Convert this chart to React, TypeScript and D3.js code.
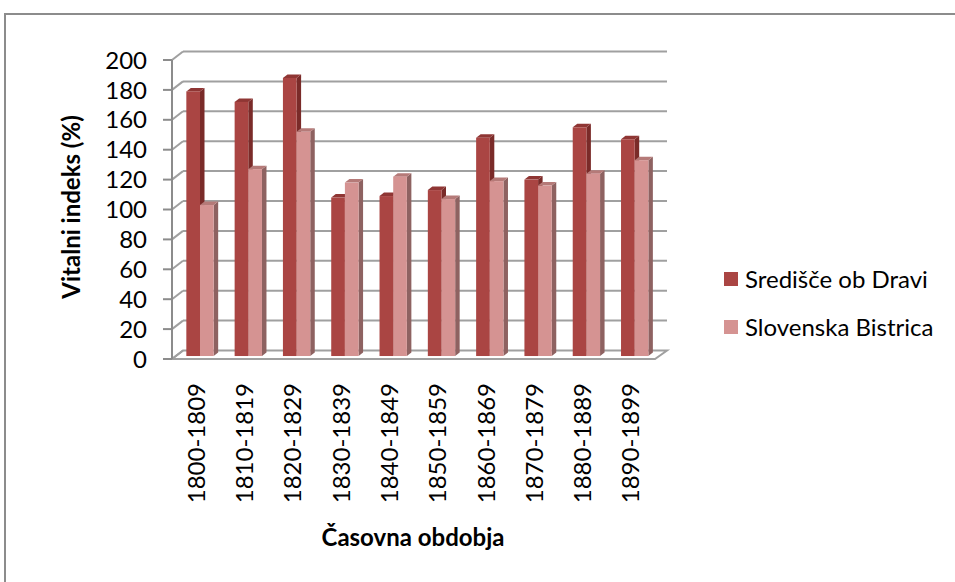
import { useEffect, useRef } from 'react'
import * as d3 from 'd3'

const categories = ['1800-1809', '1810-1819', '1820-1829', '1830-1839', '1840-1849', '1850-1859', '1860-1869', '1870-1879', '1880-1889', '1890-1899']
const seriesNames = ['Središče ob Dravi', 'Slovenska Bistrica']
const sredisce = [177, 170, 186, 106, 107, 111, 146, 118, 153, 145]
const bistrica = [101, 125, 150, 116, 120, 105, 117, 114, 122, 131]
const yTicks = [0, 20, 40, 60, 80, 100, 120, 140, 160, 180, 200]

const colors = [
  { front: '#AA4543', side: '#7A2B29', top: '#8F3634' },
  { front: '#D59392', side: '#8E6261', top: '#B57A78' },
]

export default function App() {
  const ref = useRef<SVGSVGElement>(null)

  useEffect(() => {
    if (!ref.current) return
    const svg = d3.select(ref.current)
    svg.selectAll('*').remove()

    const font = 'Lato, "Open Sans", sans-serif'
    const x0 = 172, x1 = 655
    const depthX = 11, depthY = -8.5

    // front scale (axis) and back wall scale
    const yFront = d3.scaleLinear().domain([0, 200]).range([359, 60])
    const yBack = (v: number) => yFront(v) + depthY

    // outer frame
    svg.append('rect')
      .attr('x', 5).attr('y', 14)
      .attr('width', 980).attr('height', 600)
      .attr('fill', 'white')
      .attr('stroke', '#8c8c8c').attr('stroke-width', 2)

    const grid = svg.append('g')

    // floor
    grid.append('path')
      .attr('d', `M${x0},${yFront(0)} L${x1},${yFront(0)} L${x1 + depthX + 1},${yBack(0)} L${x0 + depthX},${yBack(0)} Z`)
      .attr('fill', 'white')
      .attr('stroke', '#a0a0a0').attr('stroke-width', 2)

    // gridlines on back wall + side diagonals
    yTicks.forEach(t => {
      if (t > 0) {
        grid.append('line')
          .attr('x1', x0 + depthX).attr('x2', x1 + depthX + 1)
          .attr('y1', yBack(t)).attr('y2', yBack(t))
          .attr('stroke', '#a0a0a0').attr('stroke-width', 2)
      }
      grid.append('line')
        .attr('x1', x0).attr('y1', yFront(t))
        .attr('x2', x0 + depthX).attr('y2', yBack(t))
        .attr('stroke', '#a0a0a0').attr('stroke-width', 2)
      // tick mark
      grid.append('line')
        .attr('x1', x0 - 9).attr('x2', x0)
        .attr('y1', yFront(t)).attr('y2', yFront(t))
        .attr('stroke', '#8c8c8c').attr('stroke-width', 2)
      svg.append('text')
        .attr('x', 147).attr('y', yFront(t))
        .attr('dy', '0.36em')
        .attr('text-anchor', 'end')
        .attr('font-family', font).attr('font-size', 24)
        .attr('fill', '#000')
        .text(t)
    })

    // front axis line
    grid.append('line')
      .attr('x1', x0).attr('x2', x0)
      .attr('y1', yFront(0)).attr('y2', yFront(200))
      .attr('stroke', '#8c8c8c').attr('stroke-width', 2)

    // bars at mid-depth
    const barShift = depthX * 0.35
    const barYShift = depthY * 0.35
    const xBand = d3.scaleBand().domain(categories).range([x0 + barShift, x1 + barShift]).paddingInner(0).paddingOuter(0)
    const bw = xBand.bandwidth()
    const barW = bw * 0.283
    const yBar = (v: number) => yFront(v) + barYShift
    const bdx = 4.5, bdy = -3.5

    const bars = svg.append('g')
    categories.forEach((c, i) => {
      const start = (xBand(c) as number) + (bw - 2 * barW) / 2
      ;[sredisce[i], bistrica[i]].forEach((v, s) => {
        const bx = start + s * barW
        const top = yBar(v)
        const base = yBar(0)
        const col = colors[s]
        // side
        bars.append('path')
          .attr('d', `M${bx + barW},${top} L${bx + barW + bdx},${top + bdy} L${bx + barW + bdx},${base + bdy} L${bx + barW},${base} Z`)
          .attr('fill', col.side)
        // top
        bars.append('path')
          .attr('d', `M${bx},${top} L${bx + bdx},${top + bdy} L${bx + barW + bdx},${top + bdy} L${bx + barW},${top} Z`)
          .attr('fill', col.top)
        // front
        bars.append('rect')
          .attr('x', bx).attr('y', top)
          .attr('width', barW).attr('height', base - top)
          .attr('fill', col.front)
      })
    })

    // x tick labels (rotated)
    const xFront = d3.scaleBand().domain(categories).range([x0, x1])
    categories.forEach(c => {
      const cx = (xFront(c) as number) + xFront.bandwidth() / 2
      svg.append('text')
        .attr('transform', `translate(${cx},383) rotate(-90)`)
        .attr('text-anchor', 'end')
        .attr('dy', '0.36em')
        .attr('font-family', font).attr('font-size', 24)
        .attr('fill', '#000')
        .text(c)
    })

    // axis titles
    svg.append('text')
      .attr('transform', 'translate(71,207) rotate(-90)')
      .attr('text-anchor', 'middle')
      .attr('dy', '0.36em')
      .attr('font-family', font).attr('font-size', 24).attr('font-weight', 'bold')
      .text('Vitalni indeks (%)')

    svg.append('text')
      .attr('x', 413).attr('y', 546)
      .attr('text-anchor', 'middle')
      .attr('font-family', font).attr('font-size', 24).attr('font-weight', 'bold')
      .text('Časovna obdobja')

    // legend
    seriesNames.forEach((name, i) => {
      const ly = 272 + i * 48
      svg.append('rect')
        .attr('x', 724).attr('y', ly)
        .attr('width', 14).attr('height', 14)
        .attr('fill', colors[i].front)
      svg.append('text')
        .attr('x', 745).attr('y', ly + 7)
        .attr('dy', '0.36em')
        .attr('font-family', font).attr('font-size', 24)
        .text(name)
    })
  }, [])

  return (
    <svg ref={ref} width={955} height={582} style={{ position: 'absolute', left: 0, top: 0, background: 'white' }} />
  )
}
